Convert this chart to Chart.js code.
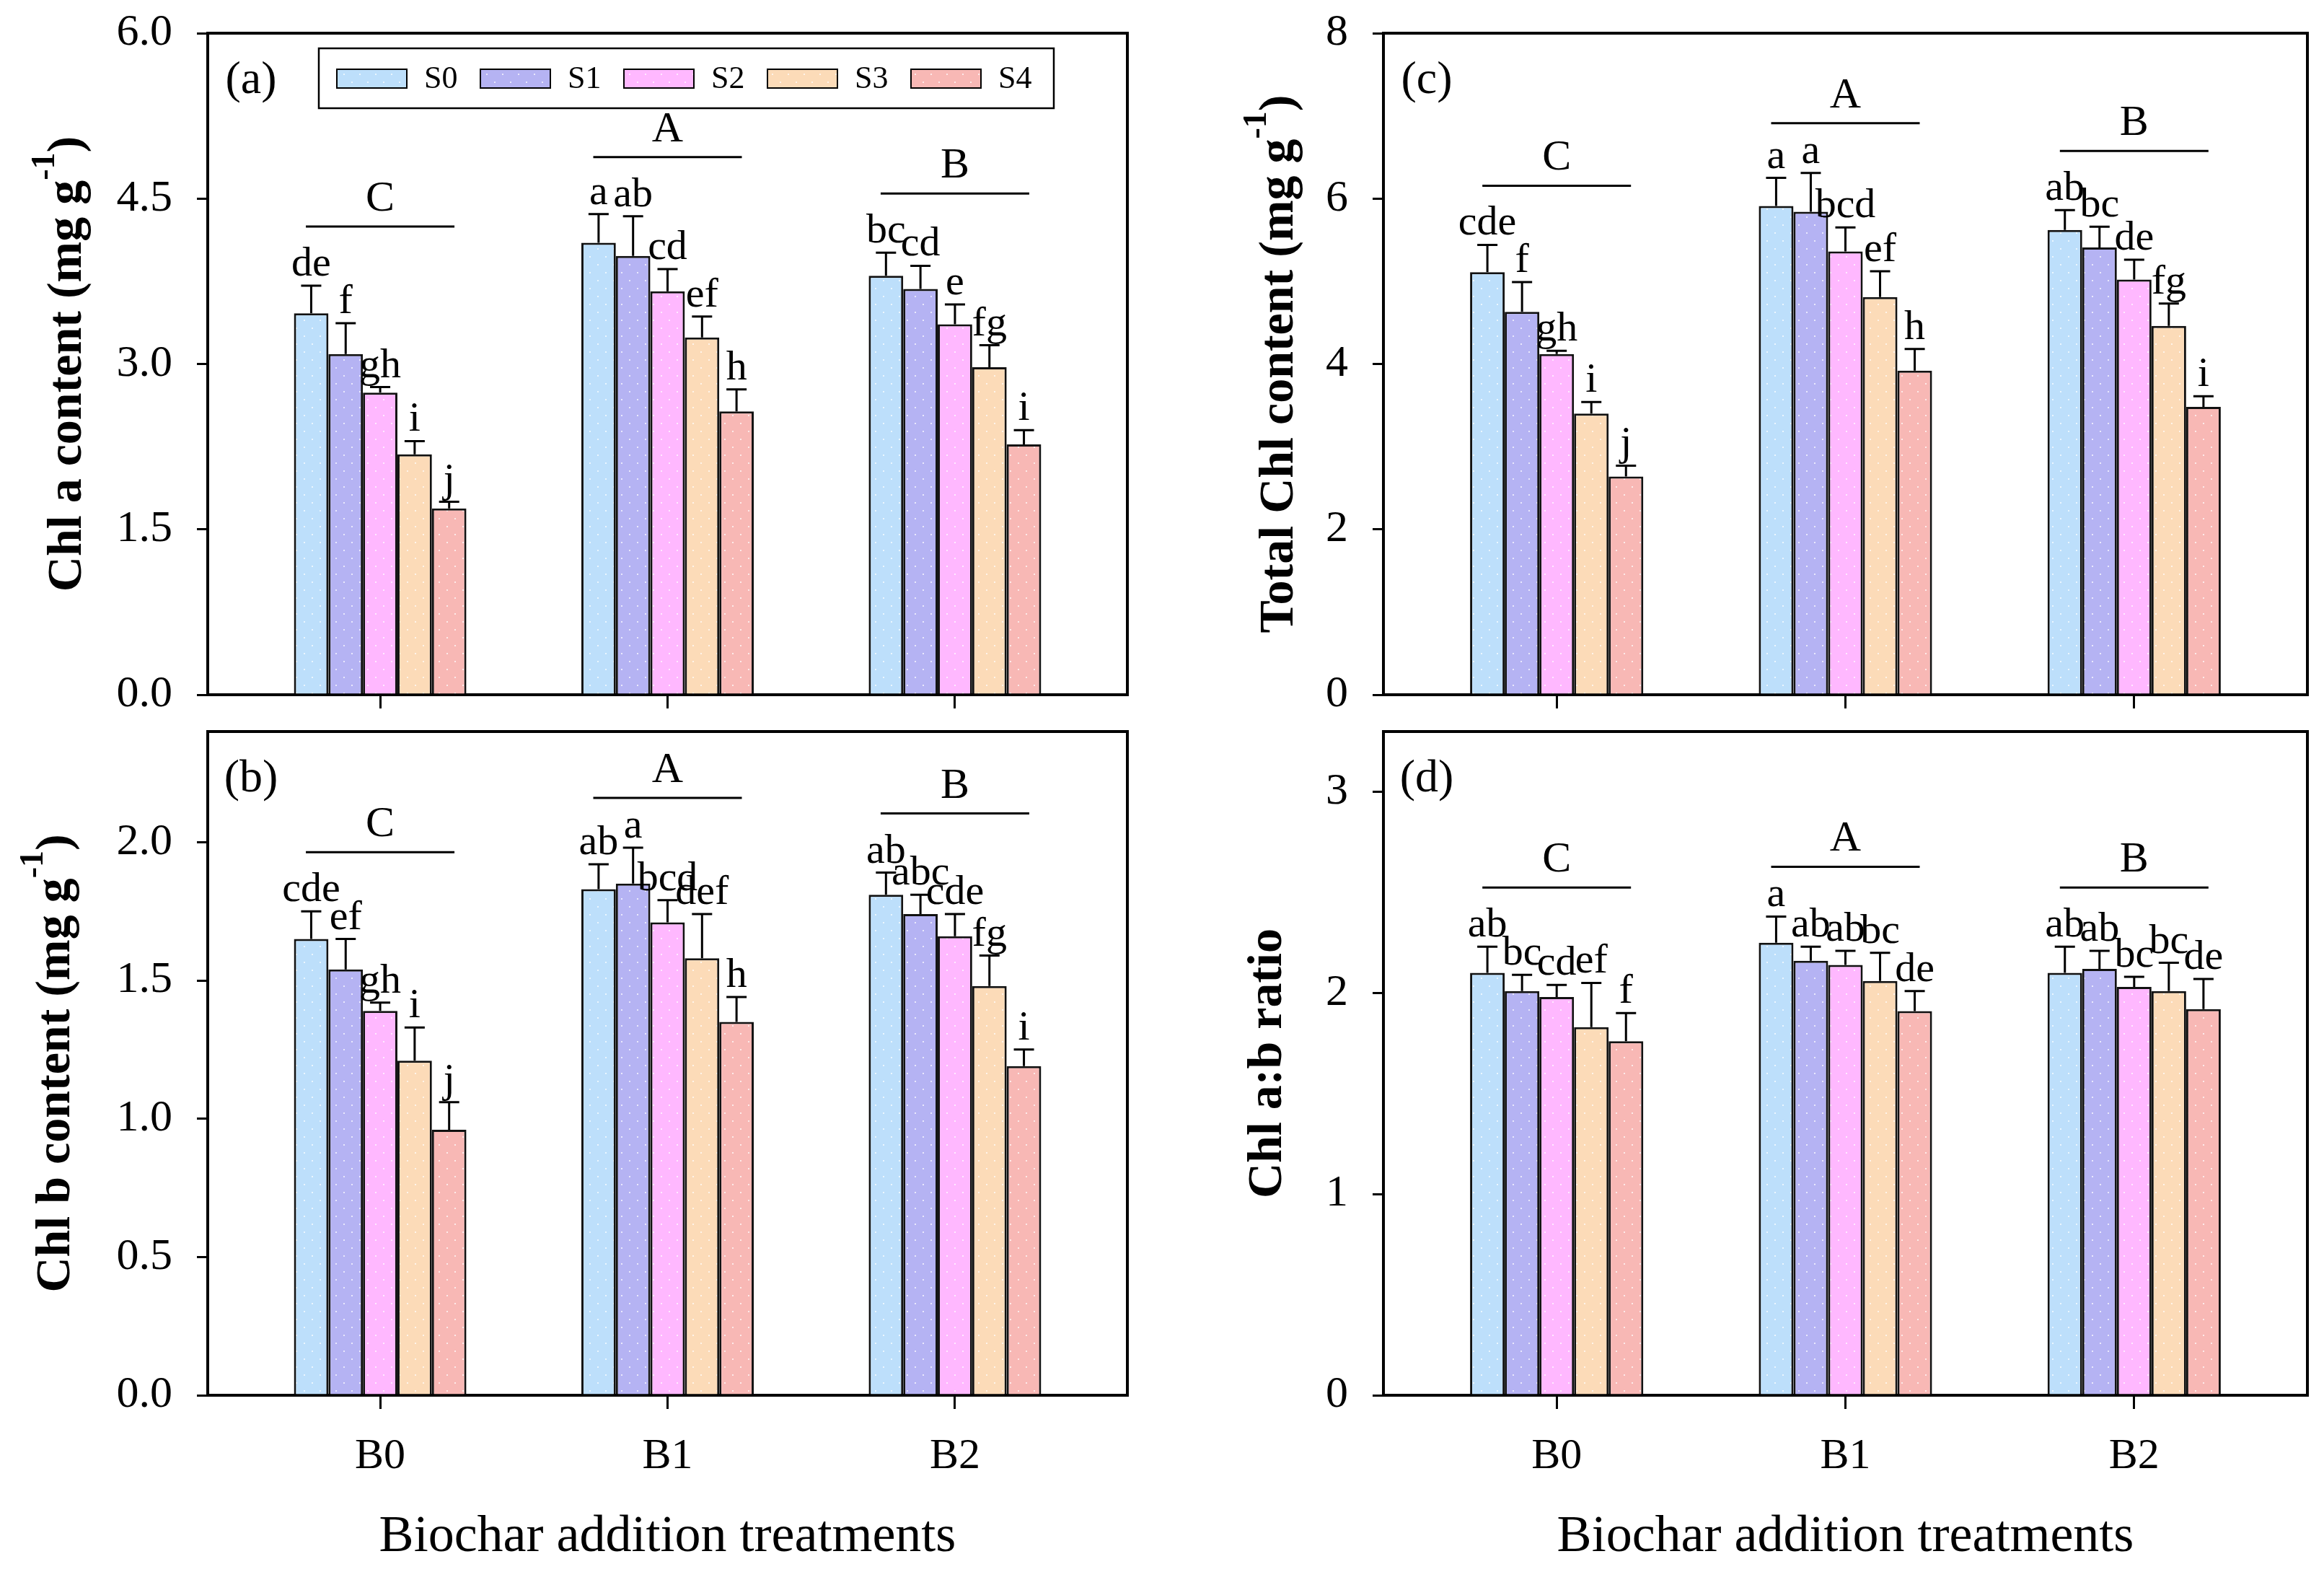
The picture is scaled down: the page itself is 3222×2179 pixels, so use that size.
<!DOCTYPE html>
<html>
<head>
<meta charset="utf-8">
<script src="https://cdn.jsdelivr.net/npm/chart.js@4.4.0/dist/chart.umd.min.js"></script>
<style>
  body { margin: 0; background: #fff; width: 3222px; height: 2179px; position: relative; overflow: hidden; }
  canvas { position: absolute; }
</style>
</head>
<body>
<canvas id="pa" width="1610" height="1000" style="left:0;top:0"></canvas>
<canvas id="pb" width="1610" height="1179" style="left:0;top:1000px"></canvas>
<canvas id="pc" width="1612" height="1000" style="left:1610px;top:0"></canvas>
<canvas id="pd" width="1612" height="1179" style="left:1610px;top:1000px"></canvas>
<script>
// shared
const categories = ['B0', 'B1', 'B2'];
const seriesNames = ['S0', 'S1', 'S2', 'S3', 'S4'];
const seriesColors = ['#bddffb', '#b5b3f3', '#ffb8ff', '#fcdbb8', '#f8b8b5'];
const groupLetters = ['C', 'A', 'B'];

// (a) Chl a content, one row per series S0..S4, columns B0,B1,B2
const chlAMean = [[3.46, 4.10, 3.80], [3.09, 3.98, 3.68], [2.74, 3.66, 3.36], [2.18, 3.24, 2.97], [1.69, 2.57, 2.27]];
const chlAErr = [[0.25, 0.26, 0.21], [0.28, 0.36, 0.21], [0.05, 0.20, 0.18], [0.12, 0.19, 0.20], [0.06, 0.20, 0.13]];
const chlALetters = [['de', 'a', 'bc'], ['f', 'ab', 'cd'], ['gh', 'cd', 'e'], ['i', 'ef', 'fg'], ['j', 'h', 'i']];
const chlATicks = ['0.0', '1.5', '3.0', '4.5', '6.0'];

// (b) Chl b content
const chlBMean = [[1.65, 1.83, 1.81], [1.54, 1.85, 1.74], [1.39, 1.71, 1.66], [1.21, 1.58, 1.48], [0.96, 1.35, 1.19]];
const chlBErr = [[0.10, 0.09, 0.08], [0.11, 0.13, 0.07], [0.03, 0.08, 0.08], [0.12, 0.16, 0.11], [0.10, 0.09, 0.06]];
const chlBLetters = [['cde', 'ab', 'ab'], ['ef', 'a', 'abc'], ['gh', 'bcd', 'cde'], ['i', 'def', 'fg'], ['j', 'h', 'i']];
const chlBTicks = ['0.0', '0.5', '1.0', '1.5', '2.0'];

// (c) Total Chl content
const totMean = [[5.11, 5.91, 5.62], [4.63, 5.84, 5.41], [4.12, 5.36, 5.02], [3.40, 4.81, 4.46], [2.64, 3.92, 3.48]];
const totErr = [[0.33, 0.34, 0.24], [0.36, 0.47, 0.25], [0.04, 0.29, 0.24], [0.14, 0.31, 0.27], [0.13, 0.26, 0.13]];
const totLetters = [['cde', 'a', 'ab'], ['f', 'a', 'bc'], ['gh', 'bcd', 'de'], ['i', 'ef', 'fg'], ['j', 'h', 'i']];
const totTicks = ['0', '2', '4', '6', '8'];

// (d) Chl a:b ratio
const ratioMean = [[2.10, 2.25, 2.10], [2.01, 2.16, 2.12], [1.98, 2.14, 2.03], [1.83, 2.06, 2.01], [1.76, 1.91, 1.92]];
const ratioErr = [[0.13, 0.13, 0.13], [0.08, 0.07, 0.09], [0.06, 0.07, 0.05], [0.22, 0.14, 0.14], [0.14, 0.10, 0.15]];
const ratioLetters = [['ab', 'a', 'ab'], ['bc', 'ab', 'ab'], ['cd', 'ab', 'bc'], ['ef', 'bc', 'bc'], ['f', 'de', 'de']];
const ratioTicks = ['0', '1', '2', '3'];

const SERIF = '"Liberation Serif", "Times New Roman", serif';
Chart.defaults.font.family = SERIF;
Chart.defaults.color = '#000';

// bar fill: flat colour with faint white dots
function dotted(color) {
  const c = document.createElement('canvas');
  c.width = 22; c.height = 22;
  const g = c.getContext('2d');
  g.fillStyle = color;
  g.fillRect(0, 0, 22, 22);
  g.fillStyle = 'rgba(255,255,255,0.7)';
  g.fillRect(3, 3, 2, 2);
  g.fillRect(14, 14, 2, 2);
  return g.createPattern(c, 'repeat');
}

const marks = {
  id: 'marks',
  afterDatasetsDraw(chart, args, o) {
    const ctx = chart.ctx, ys = chart.scales.y, xs = chart.scales.x;
    ctx.save();
    ctx.strokeStyle = '#000';
    ctx.fillStyle = '#000';
    ctx.lineWidth = 3;
    ctx.textAlign = 'center';
    ctx.textBaseline = 'alphabetic';
    ctx.font = '58px ' + SERIF;
    const tops = categories.map(() => Infinity);
    chart.data.datasets.forEach((ds, i) => {
      chart.getDatasetMeta(i).data.forEach((bar, j) => {
        const py = ys.getPixelForValue(ds.data[j].y + o.errs[i][j]);
        ctx.beginPath();
        ctx.moveTo(bar.x, bar.y);
        ctx.lineTo(bar.x, py);
        ctx.moveTo(bar.x - 14, py);
        ctx.lineTo(bar.x + 14, py);
        ctx.stroke();
        const base = py - 14;
        const txt = o.letters[i][j];
        ctx.fillText(txt, bar.x, base);
        tops[j] = Math.min(tops[j], base - ctx.measureText(txt).actualBoundingBoxAscent);
      });
    });
    ctx.font = '60px ' + SERIF;
    tops.forEach((t, j) => {
      const cx = xs.getPixelForValue(j), ly = t - 28;
      ctx.beginPath();
      ctx.moveTo(cx - 103, ly);
      ctx.lineTo(cx + 103, ly);
      ctx.stroke();
      ctx.fillText(groupLetters[j], cx, ly - 22);
    });
    ctx.restore();
  },
  afterDraw(chart, args, o) {
    const ctx = chart.ctx, a = chart.chartArea;
    ctx.save();
    ctx.strokeStyle = '#000';
    ctx.fillStyle = '#000';
    // frame top and right
    ctx.lineWidth = 4;
    ctx.beginPath();
    ctx.moveTo(a.left, a.top);
    ctx.lineTo(a.right, a.top);
    ctx.lineTo(a.right, a.bottom);
    ctx.stroke();
    // panel label
    ctx.font = '64px ' + SERIF;
    ctx.textAlign = 'center';
    ctx.textBaseline = 'middle';
    ctx.fillText(o.tag, a.left + 60, a.top + 66);
    // y title, rotated, with superscript
    ctx.translate(a.left - o.titleOff, (a.top + a.bottom) / 2);
    ctx.rotate(-Math.PI / 2);
    ctx.textAlign = 'left';
    ctx.textBaseline = 'alphabetic';
    const big = 'bold 68px ' + SERIF, small = 'bold 46px ' + SERIF;
    const parts = [[o.yTitle[0], big, 0], [o.yTitle[1], small, -37], [o.yTitle[2], big, 0]];
    let w = 0;
    parts.forEach(p => { ctx.font = p[1]; w += ctx.measureText(p[0]).width; });
    let px = -w / 2;
    parts.forEach(p => {
      ctx.font = p[1];
      ctx.fillText(p[0], px, p[2]);
      px += ctx.measureText(p[0]).width;
    });
    ctx.setTransform(1, 0, 0, 1, 0, 0);
    // x title
    if (o.xTitle) {
      ctx.font = '72px ' + SERIF;
      ctx.textAlign = 'center';
      ctx.fillText(o.xTitle, (a.left + a.right) / 2, a.bottom + 216);
    }
    // legend box
    if (o.legend) {
      const bx = a.left + 154, by = a.top + 21;
      ctx.lineWidth = 2.5;
      ctx.strokeRect(bx, by, 1019, 83);
      ctx.font = '44px ' + SERIF;
      ctx.textAlign = 'left';
      ctx.textBaseline = 'middle';
      seriesNames.forEach((s, k) => {
        const sx = bx + 25 + k * 199, sy = by + 29;
        ctx.fillStyle = chart.data.datasets[k].backgroundColor;
        ctx.fillRect(sx, sy, 97, 26);
        ctx.lineWidth = 2;
        ctx.strokeRect(sx, sy, 97, 26);
        ctx.fillStyle = '#000';
        ctx.fillText(s, sx + 121, sy + 14);
      });
    }
    ctx.restore();
  }
};

function panel(id, p) {
  const tickVals = p.ticks.map(Number);
  new Chart(document.getElementById(id), {
    type: 'bar',
    data: {
      datasets: seriesNames.map((s, i) => ({
        label: s,
        data: p.mean[i].map((v, j) => ({ x: j, y: v })),
        backgroundColor: dotted(seriesColors[i]),
        borderColor: '#111',
        borderWidth: 3,
        categoryPercentage: 0.6,
        barPercentage: 1.0
      }))
    },
    options: {
      responsive: false,
      devicePixelRatio: 1,
      animation: false,
      layout: { padding: { left: 0, right: p.padR, top: p.padT, bottom: 0 } },
      scales: {
        x: {
          type: 'linear',
          min: -0.6,
          max: 2.6,
          offset: false,
          afterBuildTicks: s => { s.ticks = categories.map((c, j) => ({ value: j })); },
          afterFit: s => { s.height = p.xH; s.paddingLeft = 0; s.paddingRight = 0; },
          grid: { display: true, offset: false, drawOnChartArea: false, drawTicks: true, tickLength: 19, lineWidth: 3, color: '#000' },
          border: { display: true, color: '#000', width: 4 },
          ticks: {
            padding: 30,
            maxRotation: 0,
            font: { size: 60 },
            callback: (v, i) => p.xTitle ? categories[i] : ''
          }
        },
        y: {
          min: 0,
          max: p.max,
          afterBuildTicks: s => { s.ticks = tickVals.map(v => ({ value: v })); },
          afterFit: s => { s.width = p.yW; s.paddingTop = 0; s.paddingBottom = 0; },
          grid: { display: true, drawOnChartArea: false, drawTicks: true, tickLength: 15, lineWidth: 3, color: '#000' },
          border: { display: true, color: '#000', width: 4 },
          ticks: {
            padding: 34,
            font: { size: 62 },
            callback: (v, i) => p.ticks[i]
          }
        }
      },
      plugins: {
        legend: { display: false },
        tooltip: { enabled: false },
        marks: {
          errs: p.err, letters: p.letters, tag: p.tag, yTitle: p.yTitle,
          titleOff: p.titleOff, xTitle: p.xTitle, legend: p.legend
        }
      }
    },
    plugins: [marks]
  });
}

panel('pa', {
  mean: chlAMean, err: chlAErr, letters: chlALetters, ticks: chlATicks, max: 6.0,
  tag: '(a)', yTitle: ['Chl a content (mg g', '-1', ')'], legend: true, xTitle: '',
  yW: 288, padR: 47, padT: 46, xH: 37, titleOff: 176
});
panel('pb', {
  mean: chlBMean, err: chlBErr, letters: chlBLetters, ticks: chlBTicks, max: 2.4,
  tag: '(b)', yTitle: ['Chl b content (mg g', '-1', ')'], legend: false, xTitle: 'Biochar addition treatments',
  yW: 288, padR: 47, padT: 14, xH: 245, titleOff: 192
});
panel('pc', {
  mean: totMean, err: totErr, letters: totLetters, ticks: totTicks, max: 8,
  tag: '(c)', yTitle: ['Total Chl content (mg g', '-1', ')'], legend: false, xTitle: '',
  yW: 308, padR: 23, padT: 46, xH: 37, titleOff: 126
});
panel('pd', {
  mean: ratioMean, err: ratioErr, letters: ratioLetters, ticks: ratioTicks, max: 3.3,
  tag: '(d)', yTitle: ['Chl a:b ratio', '', ''], legend: false, xTitle: 'Biochar addition treatments',
  yW: 308, padR: 23, padT: 14, xH: 245, titleOff: 142
});
</script>
</body>
</html>
